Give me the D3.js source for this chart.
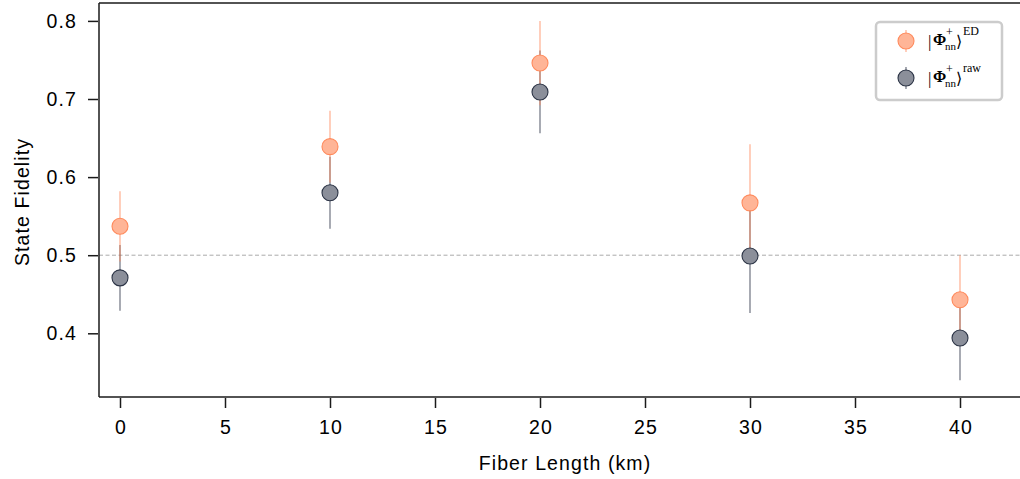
<!DOCTYPE html>
<html>
<head>
<meta charset="utf-8">
<script src="https://cdn.jsdelivr.net/npm/d3@7/dist/d3.min.js"></script>
<style>
  html, body { margin: 0; padding: 0; background: #fff; }
  svg { display: block; }
</style>
</head>
<body>
<svg id="chart" width="1020" height="479"></svg>
<script>
// ---- data ----
const fiberLength = [0, 10, 20, 30, 40];
const edFidelity  = [0.537, 0.639, 0.746, 0.567, 0.443];
const edError     = [0.045, 0.046, 0.054, 0.075, 0.057];
const rawFidelity = [0.471, 0.580, 0.709, 0.499, 0.394];
const rawError    = [0.042, 0.046, 0.053, 0.073, 0.054];
const xTicks = [0, 5, 10, 15, 20, 25, 30, 35, 40];
const yTicks = [0.4, 0.5, 0.6, 0.7, 0.8];
const threshold = 0.5;

(function () {
// ---- layout ----
const svg = d3.select("#chart");
const pLeft = 99, pTop = 3, pRight = 1022, pBottom = 397;
const x = d3.scaleLinear().domain([-1, 43]).range([pLeft, pLeft + (44 * 21)]);
const y = d3.scaleLinear().domain([0.4, 0.8]).range([333.3, 20.9]);

const font = "'Liberation Sans', Arial, Helvetica, sans-serif";
const fs = 19.5, ls = 1.1;
const spine = "#1a1a1a";

// axes
const xAxis = d3.axisBottom(x).tickValues(xTicks).tickSize(10).tickPadding(12).tickFormat(d3.format("d"));
const gx = svg.append("g").attr("transform", `translate(0,${pBottom + 1})`).call(xAxis);
gx.select(".domain").remove();
gx.selectAll(".tick line").attr("stroke", spine).attr("stroke-width", 1.5);
gx.selectAll(".tick text").attr("font-family", font).attr("font-size", fs)
  .attr("letter-spacing", ls).attr("dx", ls / 2).attr("fill", "#000");

const yAxis = d3.axisLeft(y).tickValues(yTicks).tickSize(10).tickPadding(11).tickFormat(d3.format(".1f"));
const gy = svg.append("g").attr("transform", `translate(${pLeft - 1},0)`).call(yAxis);
gy.select(".domain").remove();
gy.selectAll(".tick line").attr("stroke", spine).attr("stroke-width", 1.5);
gy.selectAll(".tick text").attr("font-family", font).attr("font-size", fs)
  .attr("letter-spacing", ls).attr("fill", "#000");

// threshold dashed line
svg.append("line")
  .attr("x1", pLeft).attr("x2", pRight)
  .attr("y1", y(threshold)).attr("y2", y(threshold))
  .attr("stroke", "#aaaaaa").attr("stroke-width", 1)
  .attr("stroke-dasharray", "4,2.5");

// error bars
const series = [
  {vals: rawFidelity, errs: rawError, line: "#2b3345", fill: "#8b8f9a", edge: "#2b3345"},
  {vals: edFidelity, errs: edError, line: "#ff8a5c", fill: "#ffb597", edge: "#ff8a5c"}
];
series.forEach(s => {
  svg.append("g").selectAll("line").data(fiberLength).join("line")
    .attr("x1", (d) => x(d)).attr("x2", (d) => x(d))
    .attr("y1", (d, i) => y(s.vals[i] - s.errs[i]))
    .attr("y2", (d, i) => y(s.vals[i] + s.errs[i]))
    .attr("stroke", s.line).attr("stroke-width", 1.1).attr("stroke-opacity", 0.75);
});
[series[1], series[0]].forEach(s => {
  svg.append("g").selectAll("circle").data(fiberLength).join("circle")
    .attr("cx", (d) => x(d))
    .attr("cy", (d, i) => y(s.vals[i]))
    .attr("r", 8)
    .attr("fill", s.fill).attr("stroke", s.edge).attr("stroke-width", 1.1);
});

// spines
svg.append("line").attr("x1", pLeft).attr("x2", pLeft).attr("y1", pTop).attr("y2", pBottom)
  .attr("stroke", spine).attr("stroke-width", 1.5);
svg.append("line").attr("x1", pLeft).attr("x2", pRight).attr("y1", pBottom).attr("y2", pBottom)
  .attr("stroke", spine).attr("stroke-width", 1.5);
svg.append("line").attr("x1", pLeft).attr("x2", pRight).attr("y1", pTop).attr("y2", pTop)
  .attr("stroke", spine).attr("stroke-width", 1.5);

// axis labels
svg.append("text").attr("x", 565).attr("y", 470).attr("text-anchor", "middle")
  .attr("font-family", font).attr("font-size", fs).attr("letter-spacing", ls)
  .attr("fill", "#000").text("Fiber Length (km)");
svg.append("text").attr("transform", "translate(29,202) rotate(-90)").attr("text-anchor", "middle")
  .attr("font-family", font).attr("font-size", fs).attr("letter-spacing", ls)
  .attr("fill", "#000").text("State Fidelity");

// legend
const legendLabels = ["ED", "raw"];
const lg = svg.append("g");
lg.append("rect").attr("x", 876).attr("y", 22).attr("width", 126).attr("height", 78).attr("rx", 4)
  .attr("fill", "#fff").attr("stroke", "#cccccc").attr("stroke-width", 2.5);
[series[1], series[0]].forEach((s, i) => {
  const cy = 41 + i * 37;
  const g = lg.append("g");
  g.append("line").attr("x1", 906).attr("x2", 906).attr("y1", cy - 11).attr("y2", cy + 11)
    .attr("stroke", s.line).attr("stroke-width", 1.1).attr("stroke-opacity", 0.75);
  g.append("circle").attr("cx", 906).attr("cy", cy).attr("r", 8)
    .attr("fill", s.fill).attr("stroke", s.edge).attr("stroke-width", 1.1);
  const base = cy + 4;
  const t = (xx, yy, size, txt, fam, weight) => g.append("text").attr("x", xx).attr("y", yy)
    .attr("font-family", fam || "'Liberation Serif', serif").attr("font-size", size)
    .attr("font-weight", weight || "normal").attr("fill", "#000").text(txt);
  t(928, base + 2, 17, "|", "'Liberation Serif', serif");
  t(933, base, 16, "Φ", "'Liberation Serif', serif", "bold");
  t(946, base - 9, 12, "+", "'Liberation Serif', serif");
  t(945, base + 5, 11, "nn");
  t(956, base + 2, 16, "⟩", "'DejaVu Sans', sans-serif");
  t(963, base - 10, 12, legendLabels[i]);
});
})();
</script>
</body>
</html>
